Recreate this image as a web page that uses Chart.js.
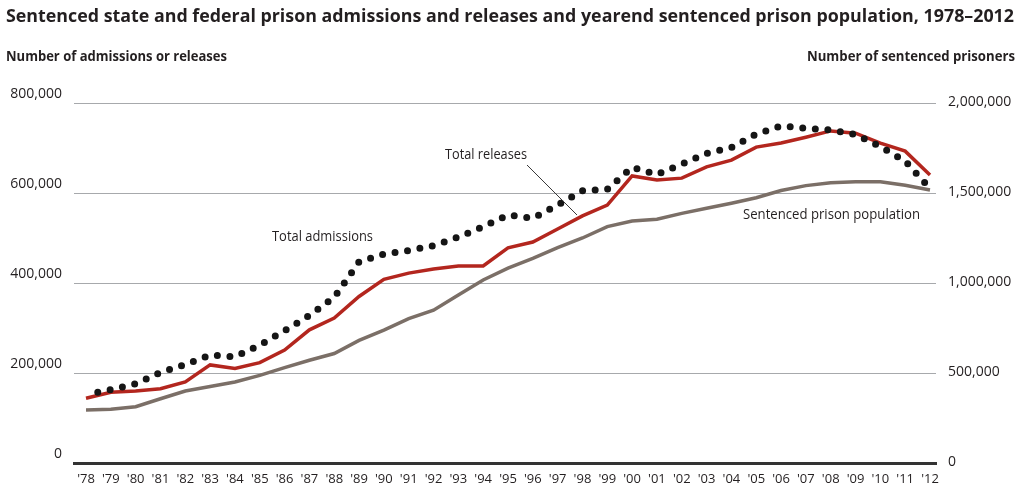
<!DOCTYPE html>
<html>
<head>
<meta charset="utf-8">
<script src="https://cdn.jsdelivr.net/npm/chart.js@4.4.1/dist/chart.umd.min.js"></script>
<style>
  html, body { margin: 0; padding: 0; background: #ffffff; }
  #wrap { width: 1021px; height: 492px; position: relative; }
  canvas { display: block; }
</style>
</head>
<body>
<div id="wrap"><canvas id="chart" width="1021" height="492"></canvas></div>
<script>
// ---- Data ----
const years = [1978, 1979, 1980, 1981, 1982, 1983, 1984, 1985, 1986, 1987, 1988, 1989,
  1990, 1991, 1992, 1993, 1994, 1995, 1996, 1997, 1998, 1999, 2000, 2001, 2002, 2003,
  2004, 2005, 2006, 2007, 2008, 2009, 2010, 2011, 2012];

const totalAdmissions = [152000, 163000, 176000, 201000, 219000, 240000, 236000, 262000,
  294000, 328000, 368000, 447000, 464000, 472000, 483000, 502000, 525000, 551000, 544000,
  573000, 605000, 608000, 657000, 641000, 664000, 688000, 701000, 731000, 749000, 744000,
  740000, 730000, 703000, 671000, 610000];

const totalReleases = [144000, 157000, 160000, 165000, 180000, 218000, 210000, 223000,
  251000, 296000, 322000, 370000, 408000, 422000, 431000, 438000, 438000, 478000, 491000,
  520000, 549000, 573000, 638000, 629000, 633000, 658000, 673000, 702000, 711000, 724000,
  738000, 733000, 711000, 693000, 640000];

const sentencedPopulation = [294000, 298000, 313000, 357000, 400000, 425000, 450000, 487000,
  530000, 571000, 608000, 681000, 738000, 802000, 849000, 933000, 1017000, 1083000, 1137000,
  1196000, 1250000, 1313000, 1344000, 1354000, 1387000, 1415000, 1443000, 1474000, 1514000,
  1541000, 1557000, 1563000, 1563000, 1543000, 1517000];

const leftTicks = [0, 200000, 400000, 600000, 800000];
const rightTicks = [0, 500000, 1000000, 1500000, 2000000];

const titleText = "Sentenced state and federal prison admissions and releases and yearend sentenced prison population, 1978\u20132012";
const leftAxisTitle = "Number of admissions or releases";
const rightAxisTitle = "Number of sentenced prisoners";
const labelAdmissions = "Total admissions";
const labelReleases = "Total releases";
const labelPopulation = "Sentenced prison population";

// ---- helpers ----
const FONT = "'Open Sans', 'Noto Sans', sans-serif";
function fitText(ctx, text, x, y, width, font, color, align) {
  ctx.save();
  ctx.font = font;
  ctx.fillStyle = color;
  ctx.textBaseline = 'alphabetic';
  ctx.textAlign = 'left';
  const m = ctx.measureText(text).width;
  const sx = width / m;
  const left = align === 'right' ? x - width : x;
  ctx.translate(left, y);
  ctx.scale(sx, 1);
  ctx.fillText(text, 0, 0);
  ctx.restore();
}

const textPlugin = {
  id: 'textPlugin',
  afterDraw(chart) {
    const ctx = chart.ctx;
    fitText(ctx, titleText, 6, 22, 1008, "bold 17px " + FONT, '#231f20', 'left');
    fitText(ctx, leftAxisTitle, 6, 61, 221, "bold 14px " + FONT, '#231f20', 'left');
    fitText(ctx, rightAxisTitle, 1015, 61, 208, "bold 14px " + FONT, '#231f20', 'right');
    fitText(ctx, labelAdmissions, 272, 241, 101, "15px " + FONT, '#231f20', 'left');
    fitText(ctx, labelReleases, 445, 159, 82, "15px " + FONT, '#231f20', 'left');
    fitText(ctx, labelPopulation, 743, 219, 177, "15px " + FONT, '#231f20', 'left');
    // leader line for "Total releases"
    ctx.save();
    ctx.strokeStyle = '#3a3a3a';
    ctx.lineWidth = 1;
    ctx.beginPath();
    ctx.moveTo(527, 165);
    ctx.lineTo(577, 215);
    ctx.stroke();
    ctx.restore();
  }
};

const toXY = (arr) => arr.map((v, i) => ({ x: years[i], y: v }));

new Chart(document.getElementById('chart'), {
  type: 'line',
  data: {
    datasets: [
      {
        label: 'Total admissions',
        data: toXY(totalAdmissions),
        yAxisID: 'y',
        borderColor: '#151515',
        borderWidth: 7,
        borderDash: [0, 12.6],
        borderDashOffset: 0.6,
        borderCapStyle: 'round',
        pointRadius: 0,
        tension: 0,
        order: 0
      },
      {
        label: 'Total releases',
        data: toXY(totalReleases),
        yAxisID: 'y',
        borderColor: '#b3261e',
        borderWidth: 3.5,
        pointRadius: 0,
        tension: 0,
        order: 1
      },
      {
        label: 'Sentenced prison population',
        data: toXY(sentencedPopulation),
        yAxisID: 'y1',
        borderColor: '#7b6f67',
        borderWidth: 3.5,
        pointRadius: 0,
        tension: 0,
        order: 2
      }
    ]
  },
  options: {
    responsive: false,
    devicePixelRatio: 1,
    animation: false,
    layout: { padding: { top: 103, left: 0, right: 0, bottom: 0 } },
    plugins: {
      legend: { display: false },
      title: { display: false },
      tooltip: { enabled: false }
    },
    scales: {
      x: {
        type: 'linear',
        min: 1977.5166,
        max: 2012.2417,
        afterBuildTicks: (axis) => { axis.ticks = years.map(v => ({ value: v })); },
        afterFit: (axis) => { axis.height = 29; },
        grid: { display: false, drawTicks: false },
        border: { display: true, color: '#333333', width: 3 },
        ticks: {
          autoSkip: false,
          maxRotation: 0,
          padding: 8,
          color: '#231f20',
          font: { family: FONT, size: 13 },
          callback: (v) => "'" + String(v).slice(2)
        }
      },
      y: {
        position: 'left',
        min: 0,
        max: 800000,
        afterBuildTicks: (axis) => { axis.ticks = leftTicks.map(v => ({ value: v })); },
        afterFit: (axis) => { axis.width = 74; },
        grid: { color: '#a7a9ac', lineWidth: 1, drawTicks: false },
        border: { display: false },
        ticks: {
          padding: 12,
          labelOffset: -9,
          color: '#231f20',
          font: { family: FONT, size: 14 },
          callback: (v) => v.toLocaleString('en-US')
        }
      },
      y1: {
        position: 'right',
        min: 0,
        max: 2000000,
        afterBuildTicks: (axis) => { axis.ticks = rightTicks.map(v => ({ value: v })); },
        afterFit: (axis) => { axis.width = 85; },
        grid: { display: false, drawTicks: false },
        border: { display: false },
        ticks: {
          padding: 12,
          labelOffset: -1,
          color: '#231f20',
          font: { family: FONT, size: 14 },
          callback: (v) => v.toLocaleString('en-US')
        }
      }
    }
  },
  plugins: [textPlugin]
});
</script>
</body>
</html>
